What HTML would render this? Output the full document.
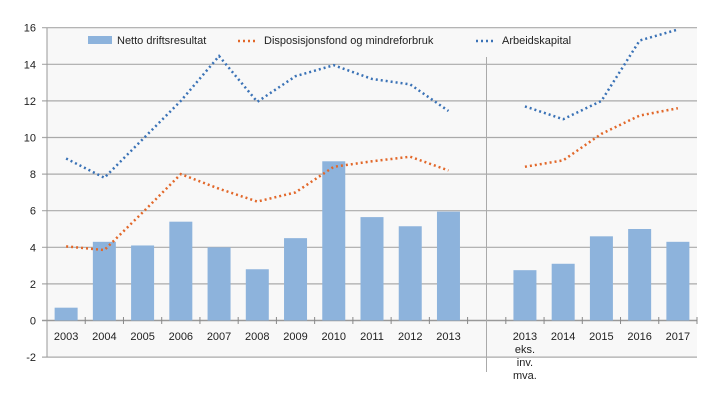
<!DOCTYPE html>
<html><head><meta charset="utf-8"><style>
body{margin:0;background:#fff;}
svg text{font-family:"Liberation Sans",sans-serif;font-size:11px;fill:#222;}
</style></head><body>
<svg width="719" height="404" id="c">
<rect x="47" y="28" width="650" height="329" fill="#f8f8f8"/>
<g id="grid"></g>
<g id="bars"></g>
<g id="lines"></g>
<g id="labels"></g>
<line x1="486.5" y1="57" x2="486.5" y2="372" stroke="#aaa" stroke-width="1"/>
<g>
<rect x="88" y="36" width="24" height="8" fill="#8db3dc"/>
<text x="117" y="44">Netto driftsresultat</text>
<line x1="238" y1="41" x2="258" y2="41" stroke="#e2682a" stroke-width="2.5" stroke-dasharray="2 3"/>
<text x="264" y="44">Disposisjonsfond og mindreforbruk</text>
<line x1="476" y1="41" x2="496" y2="41" stroke="#3a72b6" stroke-width="2.5" stroke-dasharray="2 3"/>
<text x="502" y="44">Arbeidskapital</text>
</g>
</svg>
<script>
const categories=["2003","2004","2005","2006","2007","2008","2009","2010","2011","2012","2013","","2013|eks.|inv.|mva.","2014","2015","2016","2017"];
const netto=[0.7,4.3,4.1,5.4,4.0,2.8,4.5,8.7,5.65,5.15,5.95,null,2.75,3.1,4.6,5.0,4.3];
const dispFond=[4.05,3.85,5.9,8.0,7.2,6.5,7.0,8.4,8.7,8.95,8.2,null,8.4,8.75,10.2,11.2,11.6];
const arbKap=[8.85,7.8,9.9,12.0,14.45,11.95,13.35,13.95,13.2,12.9,11.45,null,11.7,11.0,12.0,15.3,15.9];
const yTicks=[-2,0,2,4,6,8,10,12,14,16];
const NS="http://www.w3.org/2000/svg";
const X0=47,X1=697,slot=(X1-X0)/categories.length;
function xs(i){return X0+slot*(i+0.5);}
function ys(v){return 320.5-v*18.3;}
function mk(t,a,p){const e=document.createElementNS(NS,t);for(const k in a)e.setAttribute(k,a[k]);p.appendChild(e);return e;}
const grid=document.getElementById('grid'),bars=document.getElementById('bars'),lines=document.getElementById('lines'),labels=document.getElementById('labels');
yTicks.forEach(v=>{
 const l=mk('line',{x1:X0-5,x2:X1,y1:ys(v),y2:ys(v),stroke:v===0?'#999':'#aaa','stroke-width':v===0?1.5:1.2},grid);
 
 
 const t=mk('text',{x:36,y:ys(v)+4,'text-anchor':'end'},labels);t.textContent=v;
 
 
});
mk('line',{x1:X0,x2:X0,y1:28,y2:357,stroke:'#999'},grid);
for(let i=1;i<=categories.length;i++){mk('line',{x1:X0+slot*i,x2:X0+slot*i,y1:317,y2:324,stroke:'#888'},grid);}
categories.forEach((c,i)=>{
 if(!c)return;
 c.split('|').forEach((s,j)=>{const t=mk('text',{x:xs(i),y:340+j*13,'text-anchor':'middle'},labels);t.textContent=s;
 
 });
});
netto.forEach((v,i)=>{
 if(v===null)return;
 const r=mk('rect',{x:xs(i)-11.5,y:Math.min(ys(v),ys(0)),width:23,height:Math.abs(ys(0)-ys(v)),fill:'#8db3dc'},bars);
 
 
});
function drawLine(arr,col,name){
 let seg=[];const segs=[];
 arr.forEach((v,i)=>{if(v===null){if(seg.length)segs.push(seg);seg=[];}else seg.push(xs(i)+','+ys(v));});
 if(seg.length)segs.push(seg);
 segs.forEach(s=>{const p=mk('polyline',{points:s.join(' '),fill:'none',stroke:col,'stroke-width':2.5,'stroke-dasharray':'2 3'},lines);
 
 });
}
drawLine(dispFond,'#e2682a','line-disposisjonsfond');
drawLine(arbKap,'#3a72b6','line-arbeidskapital');
</script>
</body></html>
